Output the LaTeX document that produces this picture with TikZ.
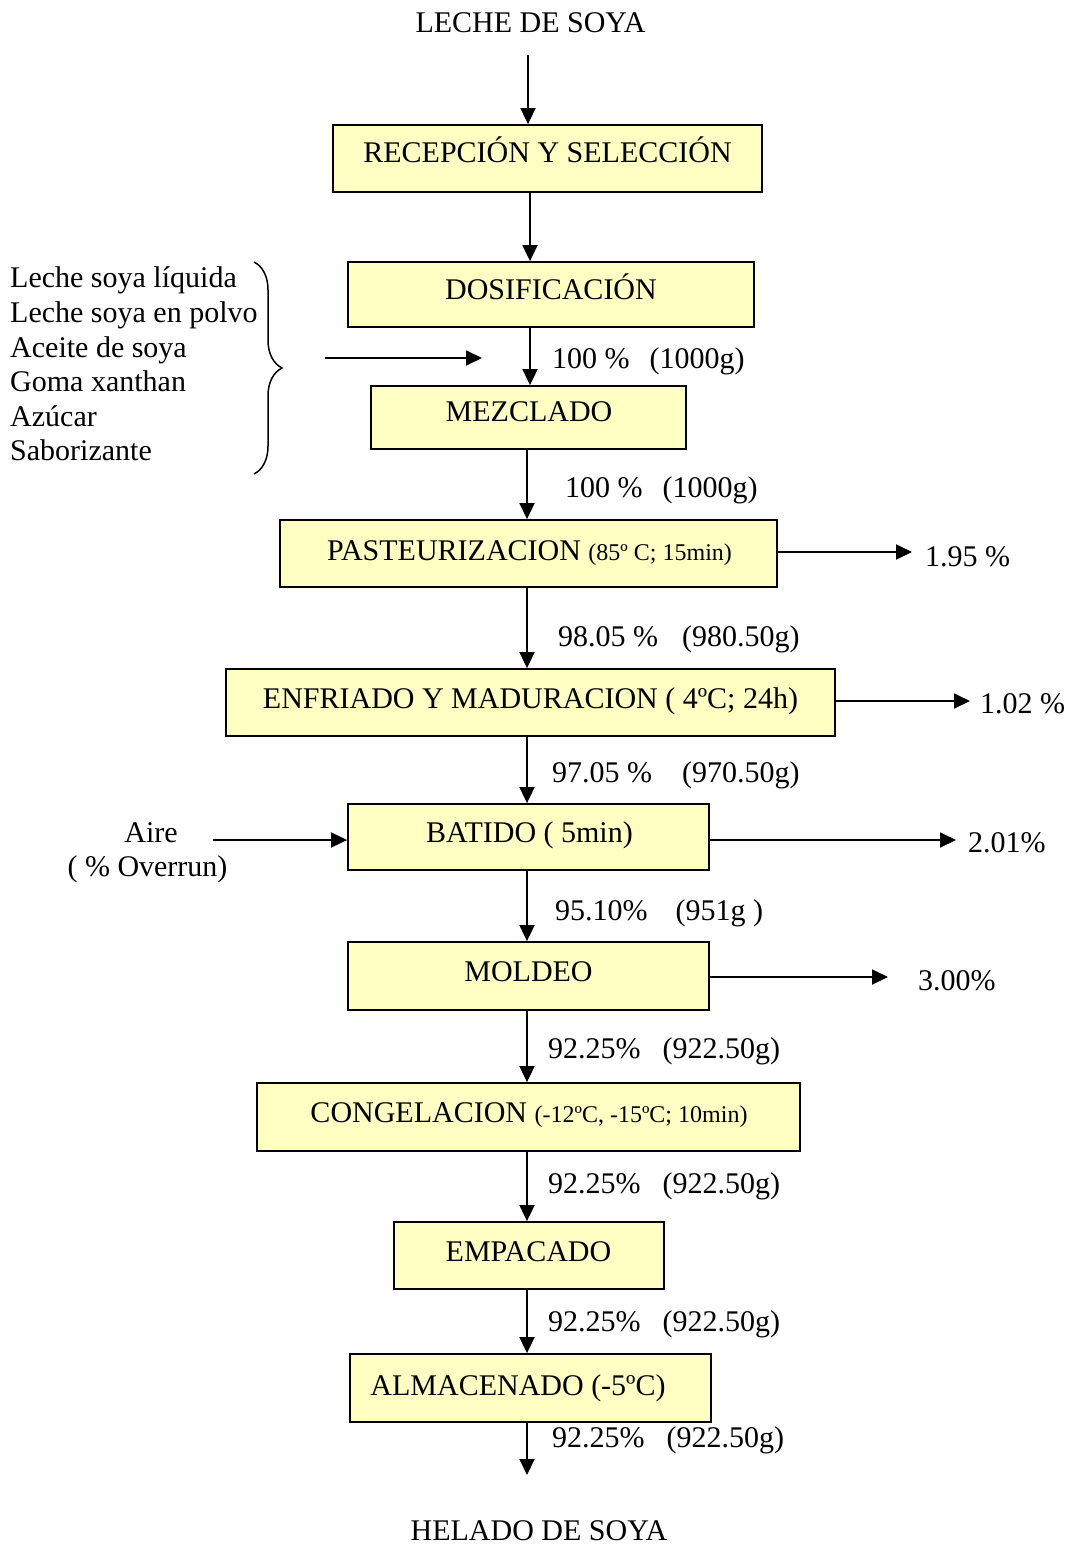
\documentclass[tikz,border=0pt]{standalone}
\usepackage{fontspec}
\setmainfont{Liberation Serif}
\usetikzlibrary{arrows.meta,decorations.pathreplacing}
\definecolor{boxfill}{RGB}{255,255,196}
\newcommand{\sm}[1]{{\fontsize{24}{28}\selectfont #1}}
\begin{document}
\begin{tikzpicture}[x=1pt,y=-1pt,
  box/.style={draw=black,line width=1.8pt,fill=boxfill,rectangle,inner sep=0pt},
  txt/.style={inner sep=0pt,anchor=base,font=\fontsize{30}{34.5}\selectfont},
  lbl/.style={inner sep=0pt,anchor=base west,font=\fontsize{30}{34.5}\selectfont},
  arr/.style={line width=1.8pt,-{Triangle[length=16pt,width=15pt]}}]
\useasboundingbox (0,0) rectangle (1070,1546);
\fill[white] (0,0) rectangle (1070,1546);
% boxes
\node[box,minimum width=429pt,minimum height=67pt] (b1) at (547.5,158.5) {};
\node[box,minimum width=406pt,minimum height=65pt] (b2) at (551,294.5) {};
\node[box,minimum width=315pt,minimum height=63pt] (b3) at (528.5,417.5) {};
\node[box,minimum width=497pt,minimum height=67pt] (b4) at (528.5,553.5) {};
\node[box,minimum width=609pt,minimum height=67pt] (b5) at (530.5,702.5) {};
\node[box,minimum width=361pt,minimum height=66pt] (b6) at (528.5,837) {};
\node[box,minimum width=361pt,minimum height=68pt] (b7) at (528.5,976) {};
\node[box,minimum width=543pt,minimum height=68pt] (b8) at (528.5,1117) {};
\node[box,minimum width=270pt,minimum height=67pt] (b9) at (529,1255.5) {};
\node[box,minimum width=361pt,minimum height=68pt] (b10) at (530.5,1388) {};
% box texts
\node[txt] (tin) at (530.5,33) {LECHE DE SOYA};
\node[txt] (t1) at (547.5,163) {RECEPCIÓN Y SELECCIÓN};
\node[txt] (t2) at (551,299) {DOSIFICACIÓN};
\node[txt] (t3) at (529,421) {MEZCLADO};
\node[txt] (t4) at (529.5,560) {PASTEURIZACION \sm{(85º C; 15min)}};
\node[txt] (t5) at (530.5,708) {ENFRIADO Y MADURACION ( 4ºC; 24h)};
\node[txt] (t6) at (529.5,842) {BATIDO ( 5min)};
\node[txt] (t7) at (528.5,981) {MOLDEO};
\node[txt] (t8) at (529,1122) {CONGELACION \sm{(-12ºC, -15ºC; 10min)}};
\node[txt] (t9) at (528.5,1261) {EMPACADO};
\node[txt] (t10) at (518,1395) {ALMACENADO (-5ºC)};
\node[txt] (tout) at (539,1540) {HELADO DE SOYA};
% flow labels
\node[lbl] (m1) at (552,368) {100 \%\hspace{20pt}(1000g)};
\node[lbl] (m2) at (565,497) {100 \%\hspace{20pt}(1000g)};
\node[lbl] (m3) at (558,646) {98.05 \%\hspace{24pt}(980.50g)};
\node[lbl] (m4) at (552,782) {97.05 \%\hspace{30pt}(970.50g)};
\node[lbl] (m5) at (555,920) {95.10\%\hspace{28pt}(951g )};
\node[lbl] (m6) at (548,1058) {92.25\%\hspace{22pt}(922.50g)};
\node[lbl] (m7) at (548,1193) {92.25\%\hspace{22pt}(922.50g)};
\node[lbl] (m8) at (548,1331) {92.25\%\hspace{22pt}(922.50g)};
\node[lbl] (m9) at (552,1447) {92.25\%\hspace{22pt}(922.50g)};
% losses
\node[lbl] (l1) at (925,566) {1.95 \%};
\node[lbl] (l2) at (980,713) {1.02 \%};
\node[lbl] (l3) at (968,852) {2.01\%};
\node[lbl] (l4) at (918,990) {3.00\%};
% air
\node[txt] (air1) at (151,842) {Aire};
\node[txt] (air2) at (147.5,876) {( \% Overrun)};
% ingredients
\node[lbl] (i1) at (10,287) {Leche soya líquida};
\node[lbl] (i2) at (10,322) {Leche soya en polvo};
\node[lbl] (i3) at (10,357) {Aceite de soya};
\node[lbl] (i4) at (10,391) {Goma xanthan};
\node[lbl] (i5) at (10,426) {Azúcar};
\node[lbl] (i6) at (10,460) {Saborizante};
% brace
\coordinate (br1) at (254,262);
\coordinate (br2) at (254,474);
\draw[line width=1.5pt,decorate,decoration={brace,amplitude=28pt}] (br1) -- (br2);
% coordinates
\coordinate (sA) at (530,0);
\coordinate (sB) at (527,0);
\coordinate (top) at (528,55);
\coordinate (h1) at (325,358);
\coordinate (h2) at (482,358);
\coordinate (fin) at (527,1475);
\coordinate (r1) at (912,552);
\coordinate (r2) at (970,701);
\coordinate (r3) at (956,840);
\coordinate (r4) at (888,977);
\coordinate (a1) at (213,840);
% main arrows
\draw[arr] (top) -- (b1.north -| top);
\draw[arr] (b1.south -| sA) -- (b2.north -| sA);
\draw[arr] (b2.south -| sA) -- (b3.north -| sA);
\draw[arr] (h1) -- (h2);
\draw[arr] (b3.south -| sB) -- (b4.north -| sB);
\draw[arr] (b4.south -| sB) -- (b5.north -| sB);
\draw[arr] (b5.south -| sB) -- (b6.north -| sB);
\draw[arr] (b6.south -| sB) -- (b7.north -| sB);
\draw[arr] (b7.south -| sB) -- (b8.north -| sB);
\draw[arr] (b8.south -| sB) -- (b9.north -| sB);
\draw[arr] (b9.south -| sB) -- (b10.north -| sB);
\draw[arr] (b10.south -| sB) -- (fin);
% side arrows
\draw[arr] (b4.east |- r1) -- (r1);
\draw[arr] (b5.east |- r2) -- (r2);
\draw[arr] (b6.east |- r3) -- (r3);
\draw[arr] (b7.east |- r4) -- (r4);
\draw[arr] (a1) -- (b6.west |- a1);
\end{tikzpicture}
\end{document}
